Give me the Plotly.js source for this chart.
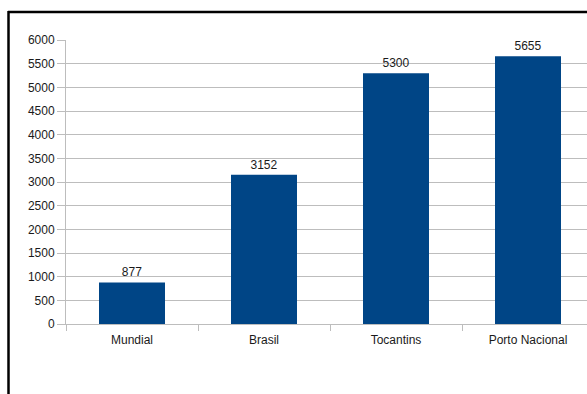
<!DOCTYPE html>
<html>
<head>
<meta charset="utf-8">
<script src="https://cdn.plot.ly/plotly-3.0.1.min.js"></script>
<style>
  html, body { margin: 0; padding: 0; background: #fff; overflow: hidden; }
  #chart { width: 600px; height: 394px; }
</style>
</head>
<body>
<div id="chart"></div>
<script>
// Categories and values
const categories = ['Mundial', 'Brasil', 'Tocantins', 'Porto Nacional'];
const values = [877, 3152, 5300, 5655];
const yTicks = [0, 500, 1000, 1500, 2000, 2500, 3000, 3500, 4000, 4500, 5000, 5500, 6000];

const barColor = '#004586';
const gridColor = '#bdbdbd';
const textColor = '#1a1a1a';

const trace = {
  type: 'bar',
  x: categories,
  y: values,
  text: values.map(String),
  textposition: 'outside',
  cliponaxis: false,
  textfont: { family: 'Liberation Sans, Arial, sans-serif', size: 12, color: textColor },
  marker: { color: barColor, line: { width: 0 } },
  hoverinfo: 'none'
};

// Plot area geometry used for the frame lines
const L = 66, R = 6, T = 40, B = 70, W = 600, H = 394;
const pw = W - L - R, ph = H - T - B;
const px = v => (v - L) / pw;
const py = v => (H - B - v) / ph;

const layout = {
  width: W,
  height: H,
  margin: { l: L, r: R, t: T, b: B },
  paper_bgcolor: '#fff',
  plot_bgcolor: '#fff',
  bargap: 0.5,
  showlegend: false,
  font: { family: 'Liberation Sans, Arial, sans-serif', size: 12, color: textColor },
  xaxis: {
    type: 'category',
    range: [-0.5, 3.5],
    tickson: 'boundaries',
    ticks: 'outside',
    ticklen: 6,
    tickcolor: gridColor,
    ticklabelstandoff: 5,
    showgrid: false,
    showline: true,
    linecolor: gridColor,
    linewidth: 1,
    tickfont: { size: 12, color: textColor },
    fixedrange: true
  },
  yaxis: {
    range: [0, 6000],
    tickvals: yTicks,
    ticktext: yTicks.map(String),
    ticks: 'outside',
    ticklen: 8,
    tickcolor: gridColor,
    showgrid: true,
    gridcolor: gridColor,
    gridwidth: 1,
    zeroline: false,
    showline: true,
    linecolor: gridColor,
    linewidth: 1,
    tickfont: { size: 12, color: textColor },
    fixedrange: true
  },
  shapes: [
    { type: 'line', xref: 'paper', yref: 'paper',
      x0: px(8), x1: px(W), y0: py(12), y1: py(12),
      line: { color: '#000', width: 2.5 } },
    { type: 'line', xref: 'paper', yref: 'paper',
      x0: px(8.5), x1: px(8.5), y0: py(11), y1: py(H),
      line: { color: '#000', width: 2.5 } }
  ]
};

Plotly.newPlot('chart', [trace], layout, { displayModeBar: false, staticPlot: true });
</script>
</body>
</html>
